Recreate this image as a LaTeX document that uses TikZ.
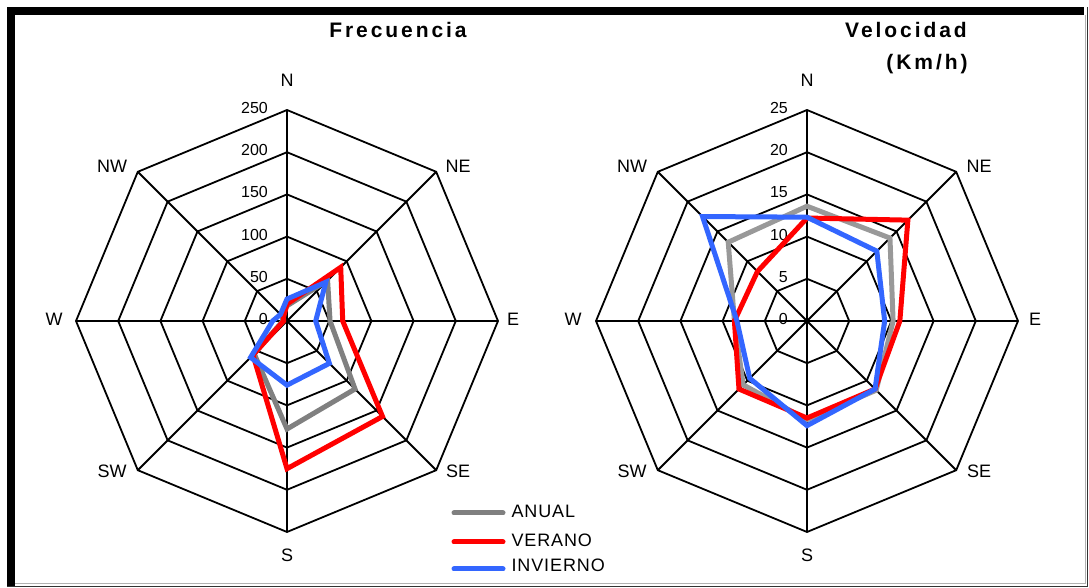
\documentclass[tikz,border=0pt]{standalone}
\usepackage{fontspec}
\setmainfont{Liberation Sans}
\newfontfamily\titfont[LetterSpace=14]{Liberation Sans}
\newfontfamily\legfont[LetterSpace=5]{Liberation Sans}
\definecolor{anualc}{HTML}{808080}
\definecolor{anualv}{HTML}{999999}
\definecolor{veranoc}{HTML}{FF0000}
\definecolor{inviernoc}{HTML}{3366FF}
\tikzset{
  rejilla/.style={line width=1.8pt, black},
  serie/.style={line width=5pt, miter limit=3},
  rumbo/.style={font=\fontsize{18}{20}\selectfont, inner sep=0pt},
  escala/.style={font=\fontsize{16}{18}\selectfont, anchor=east, inner sep=0pt},
  titulo/.style={font=\titfont\bfseries\fontsize{21}{24}\selectfont, inner sep=0pt},
  leyenda/.style={font=\legfont\fontsize{18}{20}\selectfont, text=black, anchor=west, inner sep=0pt},
}
\begin{document}
\begin{tikzpicture}[x=1pt, y=1pt, line join=miter]
\useasboundingbox (0,0) rectangle (1089,588);
% marco
\fill[black] (7,573) rectangle (1084,581);
\fill[black] (7,2) rectangle (15,581);
\draw[gray!60, line width=1pt] (15,4.5) -- (1085,4.5) -- (1085,573);
\draw[black!80, line width=1.5pt] (7,1.5) -- (1087.5,1.5) -- (1087.5,581);

% Frecuencia
\node[titulo] (tfrec) at (398,558) {Frecuencia};
\begin{scope}[shift={(287,267)}]
  \def\fu{0.844}
  \foreach \r in {1,...,5}
    \draw[rejilla] (0:{\r*42.2}) \foreach \a in {45,90,...,315}{ -- (\a:{\r*42.2})} -- cycle;
  \foreach \a in {0,45,...,315} \draw[rejilla] (0,0) -- (\a:211);
  \foreach \v [count=\i] in {0,50,100,150,200,250}
    \node[escala] (fq\v) at (-19,{(\i-1)*42.2+2}) {\v};
  \node[rumbo] (fN) at (0,241) {N};
  \node[rumbo] (fNE) at (171,155) {NE};
  \node[rumbo] (fE) at (226,2) {E};
  \node[rumbo] (fSE) at (171,-150) {SE};
  \node[rumbo] (fS) at (0,-234) {S};
  \node[rumbo] (fSW) at (-175,-150) {SW};
  \node[rumbo] (fW) at (-233,2) {W};
  \node[rumbo] (fNW) at (-175,155) {NW};
  \draw[serie, anualc] (90:{18*\fu}) -- (45:{68*\fu}) -- (0:{51*\fu}) -- (-45:{114*\fu})
    -- (-90:{128*\fu}) -- (-135:{55*\fu}) -- (180:{5*\fu}) -- (135:{8*\fu}) -- cycle;
  \draw[serie, veranoc] (90:{20*\fu}) -- (45:{90*\fu}) -- (0:{66*\fu}) -- (-45:{160*\fu})
    -- (-90:{175*\fu}) -- (-135:{57*\fu}) -- (180:{4*\fu}) -- (135:{6*\fu}) -- cycle;
  \draw[serie, inviernoc] (90:{26*\fu}) -- (45:{65*\fu}) -- (0:{34*\fu}) -- (-45:{71*\fu})
    -- (-90:{76*\fu}) -- (-135:{61*\fu}) -- (180:{17*\fu}) -- (135:{11*\fu}) -- cycle;
\end{scope}

% Velocidad
\node[titulo] (tvel) at (906,558) {Velocidad};
\node[titulo] (tkmh) at (927,523.5) {(Km/h)};
\begin{scope}[shift={(807,267)}]
  \def\vu{8.44}
  \foreach \r in {1,...,5}
    \draw[rejilla] (0:{\r*42.2}) \foreach \a in {45,90,...,315}{ -- (\a:{\r*42.2})} -- cycle;
  \foreach \a in {0,45,...,315} \draw[rejilla] (0,0) -- (\a:211);
  \foreach \v [count=\i] in {0,5,10,15,20,25}
    \node[escala] (vl\v) at (-19,{(\i-1)*42.2+2}) {\v};
  \node[rumbo] (vN) at (0,241) {N};
  \node[rumbo] (vNE) at (172,155) {NE};
  \node[rumbo] (vE) at (228,2) {E};
  \node[rumbo] (vSE) at (172,-150) {SE};
  \node[rumbo] (vS) at (0,-234) {S};
  \node[rumbo] (vSW) at (-175,-150) {SW};
  \node[rumbo] (vW) at (-234,2) {W};
  \node[rumbo] (vNW) at (-175,155) {NW};
  \draw[serie, anualv] (90:{13.6*\vu}) -- (45:{13.9*\vu}) -- (0:{10.2*\vu}) -- (-45:{11.6*\vu})
    -- (-90:{11.7*\vu}) -- (-135:{10.7*\vu}) -- (180:{8.6*\vu}) -- (135:{13.2*\vu}) -- cycle;
  \draw[serie, veranoc] (90:{12.2*\vu}) -- (45:{16.9*\vu}) -- (0:{11*\vu}) -- (-45:{11.4*\vu})
    -- (-90:{11.5*\vu}) -- (-135:{11.4*\vu}) -- (180:{8.6*\vu}) -- (135:{8.3*\vu}) -- cycle;
  \draw[serie, inviernoc] (90:{12.3*\vu}) -- (45:{11.7*\vu}) -- (0:{9.2*\vu}) -- (-45:{11.4*\vu})
    -- (-90:{12.4*\vu}) -- (-135:{9.6*\vu}) -- (180:{8.3*\vu}) -- (135:{17.5*\vu}) -- cycle;
\end{scope}

% leyenda
\coordinate (la) at (454,75);
\coordinate (lv) at (454,46);
\coordinate (li) at (454,19);
\draw[serie, anualc, line cap=round] (la) -- ++(49,0) node[leyenda, right=6pt, yshift=1.5pt] (tanual) {ANUAL};
\draw[serie, veranoc, line cap=round] (lv) -- ++(49,0) node[leyenda, right=6pt, yshift=2pt] (tverano) {VERANO};
\draw[serie, inviernoc, line cap=round] (li) -- ++(49,0) node[leyenda, right=6pt, yshift=3.5pt] (tinvierno) {INVIERNO};
\end{tikzpicture}
\end{document}
